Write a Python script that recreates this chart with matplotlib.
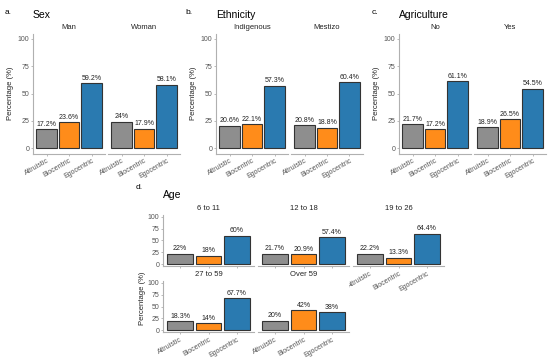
import matplotlib.pyplot as plt

W, H = 550, 360

categories = ['Altruistic', 'Biocentric', 'Egocentric']
colors = ['#8e8e8e', '#ff8c1a', '#2a7ab0']

sex_groups = ['Man', 'Woman']
sex_values = [[17.2, 23.6, 59.2], [24, 17.9, 58.1]]

eth_groups = ['Indigenous', 'Mestizo']
eth_values = [[20.6, 22.1, 57.3], [20.8, 18.8, 60.4]]

agri_groups = ['No', 'Yes']
agri_values = [[21.7, 17.2, 61.1], [18.9, 26.5, 54.5]]

age_groups = ['6 to 11', '12 to 18', '19 to 26', '27 to 59', 'Over 59']
age_values = [[22, 18, 60], [21.7, 20.9, 57.4], [22.2, 13.3, 64.4],
              [18.3, 14, 67.7], [20, 42, 38]]

yticks = [0, 25, 50, 75, 100]

AXIS_COL = '#b0b0b0'
TICK_TXT = '#555555'


def px_axes(fig, x0, y0, x1, y1):
    # pixel box (top-left origin) -> figure axes
    return fig.add_axes([x0 / W, 1 - y1 / H, (x1 - x0) / W, (y1 - y0) / H])


def draw_facet(ax, values, strip, show_y, show_x, fs=5):
    x = range(len(categories))
    ax.bar(x, values, width=0.9, color=colors, edgecolor='#333333', linewidth=0.8)
    for xi, v in zip(x, values):
        ax.annotate(f'{v:g}%', (xi, v), xytext=(0, 1), textcoords='offset points',
                    ha='center', va='bottom', fontsize=fs, color='#222222')
    ax.set_xlim(-0.6, 2.6)
    ax.set_ylim(-5, 105)
    ax.set_title(strip, fontsize=fs + 0.5, color='#222222', pad=3)
    for s in ['top', 'right']:
        ax.spines[s].set_visible(False)
    ax.spines['bottom'].set_color(AXIS_COL)
    ax.spines['left'].set_color(AXIS_COL)
    ax.tick_params(colors=AXIS_COL, length=1.5, width=0.6, labelsize=fs,
                   labelcolor=TICK_TXT, pad=1)
    ax.set_yticks(yticks)
    ax.set_xticks(list(x))
    if show_x:
        ax.set_xticklabels(categories, rotation=30, ha='right', rotation_mode='anchor')
    else:
        ax.set_xticklabels([])
    if not show_y:
        ax.spines['left'].set_visible(False)
        ax.tick_params(axis='y', left=False, labelleft=False)


def main():
    fig = plt.figure(figsize=(W / 100, H / 100), dpi=100)
    plt.rcParams['font.family'] = ['Liberation Sans', 'DejaVu Sans']

    top_panels = [
        ('a.', 'Sex', sex_groups, sex_values, [(33, 105), (108, 180)], 5),
        ('b.', 'Ethnicity', eth_groups, eth_values, [(216, 288), (291, 363)], 185),
        ('c.', 'Agriculture', agri_groups, agri_values, [(399, 471), (474, 546)], 372),
    ]
    for letter, title, groups, vals, boxes, lx in top_panels:
        for i, (g, v, (x0, x1)) in enumerate(zip(groups, vals, boxes)):
            ax = px_axes(fig, x0, 33.5, x1, 153.5)
            draw_facet(ax, v, g, i == 0, True)
            if i == 0:
                ax.set_ylabel('Percentage (%)', fontsize=5.5, color='#222222', labelpad=3)
        fig.text(lx / W, 1 - 12 / H, letter, fontsize=6, ha='left', va='center')
        fig.text(boxes[0][0] / W, 1 - 15 / H, title, fontsize=7.5, ha='left', va='center')

    # Age panel
    cols = [(163, 254), (258, 349), (353, 444)]
    rows = [(214.6, 266.4), (280.6, 332.4)]
    for k, (g, v) in enumerate(zip(age_groups, age_values)):
        r, c = divmod(k, 3)
        x0, x1 = cols[c]
        y0, y1 = rows[r]
        ax = px_axes(fig, x0, y0, x1, y1)
        show_x = r == 1 or c == 2
        draw_facet(ax, v, g, c == 0, show_x)
    fig.text(143 / W, 1 - 298 / H, 'Percentage (%)', fontsize=5.5, rotation=90,
             ha='center', va='center', color='#222222')
    fig.text(136 / W, 1 - 187 / H, 'd.', fontsize=6, ha='left', va='center')
    fig.text(163 / W, 1 - 195 / H, 'Age', fontsize=7.5, ha='left', va='center')

    fig.savefig('out.png', dpi=100)


if __name__ == '__main__':
    main()
